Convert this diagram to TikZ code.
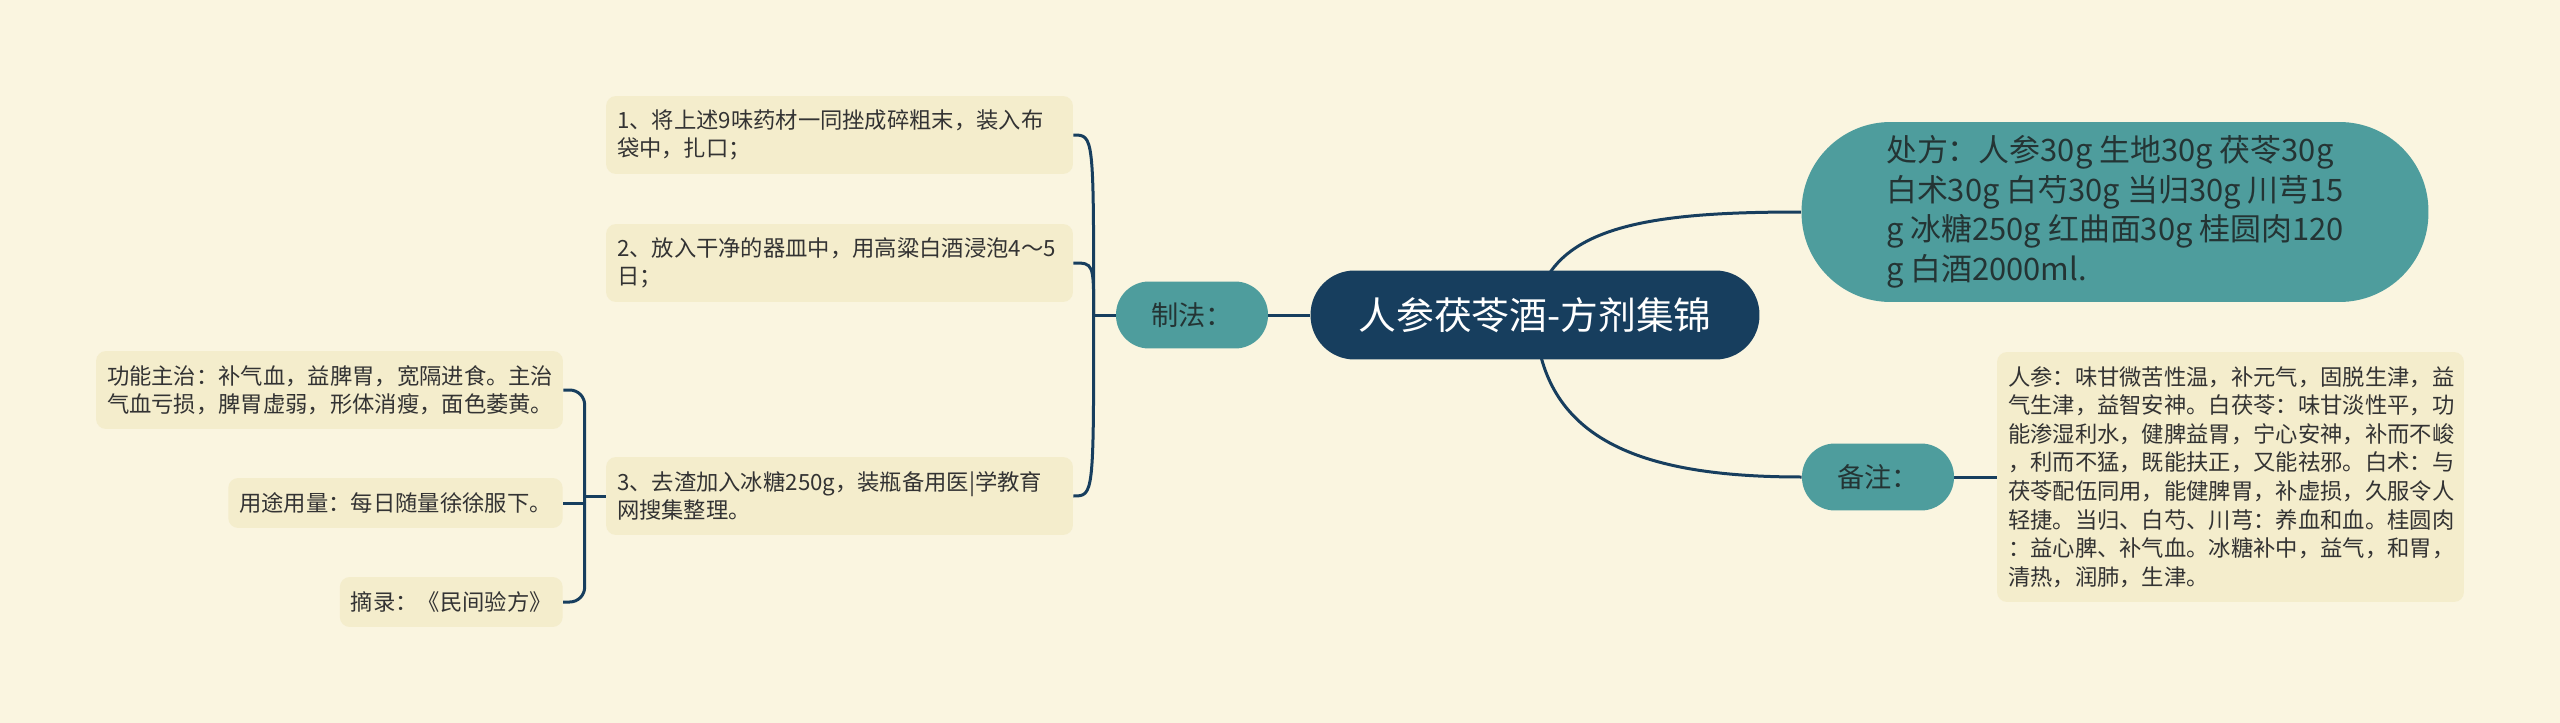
\documentclass[tikz,border=0pt]{standalone}
\usepackage{fontspec}
\setmainfont{Noto Sans CJK SC}
\usepackage{tikz}
\usetikzlibrary{backgrounds}
\definecolor{paper}{HTML}{FAF5E0}
\definecolor{leafbg}{HTML}{F4EDCC}
\definecolor{navy}{HTML}{173E5E}
\definecolor{tealbg}{HTML}{4E9D9D}
\definecolor{ink}{HTML}{333333}
\definecolor{tealink}{HTML}{243434}

\begin{document}
\begin{tikzpicture}[x=0.02cm,y=-0.02cm,
  conn/.style={draw=navy,line width=0.06cm},
  root/.style={fill=navy,text=white,rounded corners=0.88cm,minimum width=8.98cm,minimum height=1.78cm,font=\fontsize{21.5}{26}\selectfont},
  branch/.style={fill=tealbg,text=tealink,rounded corners=0.66cm,minimum width=3.04cm,minimum height=1.34cm,font=\fontsize{15.5}{19}\selectfont},
  leaf/.style={fill=leafbg,text=ink,rounded corners=0.2cm,inner xsep=0.22cm,inner ysep=0cm,minimum height=1.56cm,align=left,font=\fontsize{12.7}{16.2}\selectfont}]
  \node[root] (jiu) at (1535,315) {人参茯苓酒-方剂集锦};
  \node[branch] (zf) at (1192,315) {制法：};
  \node[branch] (bz) at (1878,477) {备注：};
  \node[branch,minimum width=12.54cm,minimum height=3.6cm,rounded corners=1.78cm,align=left,font=\fontsize{17.6}{22.5}\selectfont] (cf) at (2115,212)
    {处方：人参30g 生地30g 茯苓30g\\白术30g 白芍30g 当归30g 川芎15\\g 冰糖250g 红曲面30g 桂圆肉120\\g 白酒2000ml.};
  \node[leaf,text width=8.9cm] (s1) at (839.5,135) {1、将上述9味药材一同挫成碎粗末，装入布\\袋中，扎口；};
  \node[leaf,text width=8.9cm] (s2) at (839.5,263) {2、放入干净的器皿中，用高粱白酒浸泡4～5\\日；};
  \node[leaf,text width=8.9cm] (s3) at (839.5,496) {3、去渣加入冰糖250g，装瓶备用医|学教育\\网搜集整理。};
  \node[leaf,text width=8.9cm] (gn) at (329.5,390) {功能主治：补气血，益脾胃，宽隔进食。主治\\气血亏损，脾胃虚弱，形体消瘦，面色萎黄。};
  \node[leaf,anchor=east,minimum height=1cm] (yt) at (563,503) {用途用量：每日随量徐徐服下。};
  \node[leaf,anchor=east,minimum height=1cm] (zl) at (563,602) {摘录：《民间验方》};
  \node[leaf,text width=8.9cm,minimum height=5cm,font=\fontsize{12.7}{16.3}\selectfont] (bzt) at (2230.5,477)
    {人参：味甘微苦性温，补元气，固脱生津，益\\气生津，益智安神。白茯苓：味甘淡性平，功\\能渗湿利水，健脾益胃，宁心安神，补而不峻\\，利而不猛，既能扶正，又能祛邪。白术：与\\茯苓配伍同用，能健脾胃，补虚损，久服令人\\轻捷。当归、白芍、川芎：养血和血。桂圆肉\\：益心脾、补气血。冰糖补中，益气，和胃，\\清热，润肺，生津。};
  \begin{scope}[on background layer]
    \fill[paper] (0,0) rectangle (2560,723);
    \draw[conn] (jiu.center) .. controls (1545,225) and (1650,212) .. (cf.west);
    \draw[conn] (jiu.center) .. controls (1540,440) and (1640,477) .. (bz.west);
    \draw[conn] (jiu.west) -- (zf.east);
    \draw[conn] (bz.east) -- (bzt.west);
    \coordinate (zj) at ([xshift=-0.44cm]zf.west);
    \draw[conn] (zf.west) -- (zj);
    \foreach \s in {s1,s2,s3}{\draw[conn] (zj) .. controls (zj |- \s.east) .. (\s.east);}
    \coordinate (sj) at ([xshift=-0.42cm]s3.west);
    \draw[conn] (s3.west) -- (sj);
    \draw[conn,rounded corners=0.3cm] (sj) |- (gn.east);
    \draw[conn] (sj) |- (yt.east);
    \draw[conn,rounded corners=0.3cm] (sj) |- (zl.east);
  \end{scope}
\end{tikzpicture}
\end{document}
